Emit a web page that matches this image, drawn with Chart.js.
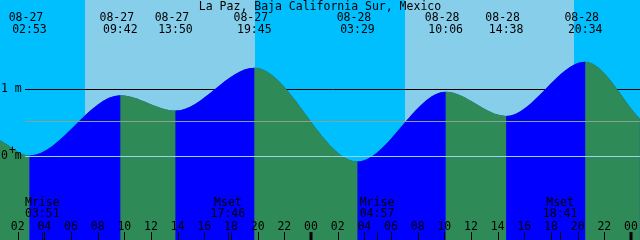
<!DOCTYPE html>
<html>
<head>
<meta charset="utf-8">
<script src="https://cdn.jsdelivr.net/npm/chart.js@4/dist/chart.umd.min.js"></script>
<style>
  body { margin: 0; background: #00BFFF; }
  #wrap { width: 640px; height: 240px; position: relative; }
</style>
</head>
<body>
<div id="wrap"><canvas id="tideChart"></canvas></div>
<script>
// Station name
var title = 'La Paz, Baja California Sur, Mexico';

// Tide curve: edges of the window plus the highs and lows (metres)
var tideTimes = ['08-27 00:40', '08-27 02:53', '08-27 09:42', '08-27 13:50', '08-27 19:45',
                 '08-28 03:29', '08-28 10:06', '08-28 14:38', '08-28 20:34', '08-29 00:40'];
var tideLevels = [0.23, 0.0, 0.90, 0.67, 1.31, -0.09, 0.95, 0.59, 1.40, 0.55];

// Moon events
var moonNames = ['Mrise', 'Mset', 'Mrise', 'Mset'];
var moonTimes = ['08-27 03:51', '08-27 17:46', '08-28 04:57', '08-28 18:41'];

// Daylight (sunrise / sunset)
var sunRise = ['08-27 07:03', '08-28 07:03'];
var sunSet = ['08-27 19:48', '08-28 19:44'];

// Hour ticks, every 2 hours counted from 08-27 00:00
var tickHours = [2, 4, 6, 8, 10, 12, 14, 16, 18, 20, 22, 24, 26, 28, 30, 32, 34, 36, 38, 40, 42, 44, 46, 48];

// Reference lines (metres)
var meanLevel = 0.52;
var levelLabels = [1, 0];

var font = '11.5px "DejaVu Sans Mono", "Liberation Mono", monospace';

// '08-27 02:53' -> hours since 08-27 00:00
function toHours(s) {
  var day = parseInt(s.substr(3, 2), 10) - 27;
  var hh = parseInt(s.substr(6, 2), 10);
  var mm = parseInt(s.substr(9, 2), 10);
  return day * 24 + hh + mm / 60;
}

var points = tideTimes.map(function (t, i) {
  return { x: toHours(t), y: tideLevels[i] };
});

var tidePlugin = {
  id: 'tideDecor',
  beforeDatasetsDraw: function (chart) {
    var ctx = chart.ctx;
    var xs = chart.scales.x, ys = chart.scales.y;
    var a = chart.chartArea;
    ctx.save();
    ctx.fillStyle = '#00BFFF';
    ctx.fillRect(a.left, a.top, a.right - a.left, a.bottom - a.top);
    ctx.fillStyle = '#87CEEB';
    for (var i = 0; i < sunRise.length; i++) {
      var x0 = Math.round(xs.getPixelForValue(toHours(sunRise[i])));
      var x1 = Math.round(xs.getPixelForValue(toHours(sunSet[i])));
      ctx.fillRect(x0, a.top, x1 - x0, a.bottom - a.top);
    }
    // 1 m line sits behind the water
    var y1 = Math.round(ys.getPixelForValue(1)) + 0.5;
    ctx.strokeStyle = '#000000';
    ctx.lineWidth = 1;
    ctx.beginPath();
    ctx.moveTo(25, y1);
    ctx.lineTo(a.right, y1);
    ctx.stroke();
    ctx.restore();
  },
  afterDatasetsDraw: function (chart) {
    var ctx = chart.ctx;
    var xs = chart.scales.x, ys = chart.scales.y;
    var a = chart.chartArea;
    ctx.save();
    ctx.lineWidth = 1;

    // mean level and datum lines on top
    var ym = Math.round(ys.getPixelForValue(meanLevel)) + 0.5;
    ctx.strokeStyle = '#8AA292';
    ctx.beginPath(); ctx.moveTo(25, ym); ctx.lineTo(a.right, ym); ctx.stroke();
    var y0 = Math.round(ys.getPixelForValue(0)) + 0.5;
    ctx.strokeStyle = '#9AD4EA';
    ctx.beginPath(); ctx.moveTo(25, y0); ctx.lineTo(a.right, y0); ctx.stroke();

    ctx.fillStyle = '#000000';
    ctx.font = font;

    // level labels
    ctx.textAlign = 'left';
    ctx.textBaseline = 'middle';
    levelLabels.forEach(function (v) {
      var y = ys.getPixelForValue(v);
      ctx.fillText(v + ' m', 1, y + 1);
    });
    ctx.textAlign = 'center';
    ctx.fillText('+', 12.5, ys.getPixelForValue(0) - 4.5);

    // title
    ctx.textBaseline = 'alphabetic';
    ctx.fillText(title, 320, 10);

    // high / low labels
    for (var i = 1; i < tideTimes.length - 1; i++) {
      var x = xs.getPixelForValue(toHours(tideTimes[i]));
      ctx.fillText(tideTimes[i].substr(0, 5), x - 3.5, 21);
      ctx.fillText(tideTimes[i].substr(6, 5), x, 33);
    }

    // moon labels and marks
    ctx.strokeStyle = '#000000';
    for (var j = 0; j < moonTimes.length; j++) {
      var mx = xs.getPixelForValue(toHours(moonTimes[j]));
      ctx.fillText(moonNames[j], mx, 205.5);
      ctx.fillText(moonTimes[j].substr(6, 5), mx, 217);
      var px = Math.round(mx) + 0.5;
      ctx.beginPath(); ctx.moveTo(px, 232); ctx.lineTo(px, a.bottom); ctx.stroke();
    }

    // hour ticks
    tickHours.forEach(function (h) {
      var tx = xs.getPixelForValue(h);
      var lab = String(h % 24).padStart(2, '0');
      ctx.fillText(lab, tx, 229.5);
      var midnight = h % 24 === 0;
      ctx.lineWidth = midnight ? 3 : 1;
      var px = midnight ? Math.round(tx) : Math.round(tx) + 0.5;
      ctx.beginPath(); ctx.moveTo(px, 232); ctx.lineTo(px, a.bottom); ctx.stroke();
      ctx.lineWidth = 1;
    });
    ctx.restore();
  }
};

var ctx = document.getElementById('tideChart').getContext('2d');
var tideChart = new Chart(ctx, {
  type: 'line',
  data: {
    datasets: [{
      label: 'Tide',
      data: points,
      order: 1,
      fill: 'start',
      borderWidth: 0,
      pointRadius: 0,
      cubicInterpolationMode: 'monotone',
      backgroundColor: '#2E8B57',
      segment: {
        backgroundColor: function (c) {
          return c.p1.parsed.y > c.p0.parsed.y ? '#0000FF' : '#2E8B57';
        }
      }
    }, {
      // plain water underneath, hides the seams between rising and falling parts
      label: 'Water',
      data: points,
      order: 2,
      fill: 'start',
      borderWidth: 0,
      pointRadius: 0,
      cubicInterpolationMode: 'monotone',
      backgroundColor: '#1846AA'
    }]
  },
  options: {
    responsive: true,
    maintainAspectRatio: false,
    animation: false,
    layout: { padding: 0 },
    plugins: {
      legend: { display: false },
      tooltip: { enabled: false }
    },
    scales: {
      x: { type: 'linear', display: false, min: 0.675, max: 48.675 },
      y: { display: false, min: -1.261, max: 2.321 }
    }
  },
  plugins: [tidePlugin]
});
</script>
</body>
</html>
